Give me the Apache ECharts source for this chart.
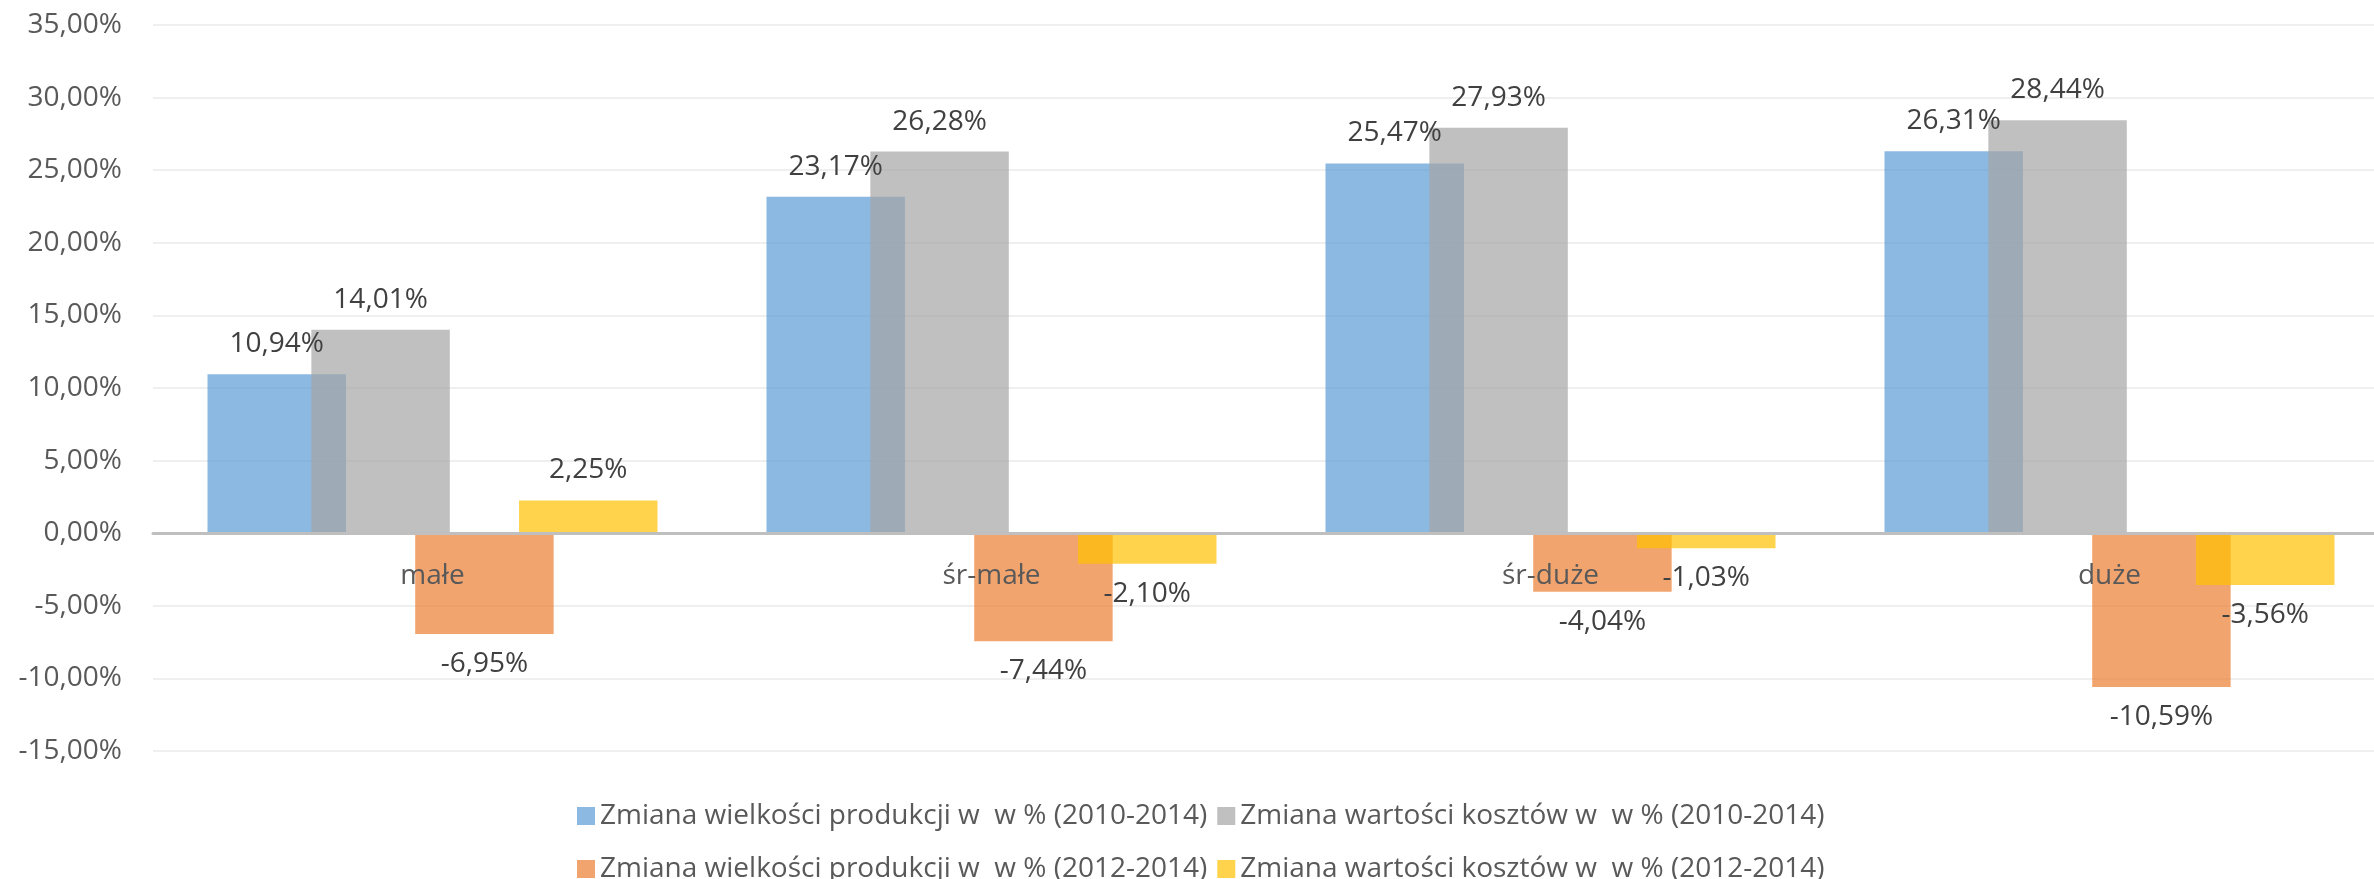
<!DOCTYPE html>
<html>
<head>
<meta charset="utf-8">
<script src="https://cdn.jsdelivr.net/npm/echarts@6/dist/echarts.min.js"></script>
<style>
  html, body { margin: 0; padding: 0; background: #fff; }
  #chart { width: 2374px; height: 879px; }
</style>
</head>
<body>
<div id="chart"></div>
<script>
const kategorie = ["małe", "śr-małe", "śr-duże", "duże"];
const produkcja1014 = [10.94, 23.17, 25.47, 26.31];
const koszty1014 = [14.01, 26.28, 27.93, 28.44];
const produkcja1214 = [-6.95, -7.44, -4.04, -10.59];
const koszty1214 = [2.25, -2.10, -1.03, -3.56];
const nazwy = [
  "Zmiana wielkości produkcji w  w % (2010-2014)",
  "Zmiana wartości kosztów w  w % (2010-2014)",
  "Zmiana wielkości produkcji w  w % (2012-2014)",
  "Zmiana wartości kosztów w  w % (2012-2014)"
];
const kolory = [
  "rgba(91,155,213,0.7)",
  "rgba(165,165,165,0.7)",
  "rgba(237,125,49,0.7)",
  "rgba(255,192,0,0.7)"
];

const fmt = (v) => v.toFixed(2).replace(".", ",") + "%";
const czcionka = "'Open Sans', sans-serif";

function seria(nazwa, wartosci, kolor) {
  return {
    name: nazwa,
    type: "bar",
    barGap: "-25%",
    barCategoryGap: "19.5%",
    itemStyle: { color: kolor },
    data: wartosci.map((v) => ({
      value: v,
      label: { position: v < 0 ? "bottom" : "top" }
    })),
    label: {
      show: true,
      distance: 16,
      color: "#404040",
      fontSize: 28,
      fontFamily: czcionka,
      formatter: (p) => fmt(p.value)
    }
  };
}

const wykres = echarts.init(document.getElementById("chart"));
wykres.setOption({
  animation: false,
  backgroundColor: "#fff",
  grid: { left: 153, width: 2236, top: 25, height: 726, outerBoundsMode: "none", containLabel: false },
  legend: [
    {
      data: [nazwy[0], nazwy[1]],
      left: 572, top: 797,
      itemWidth: 18, itemHeight: 18, itemGap: 10,
      icon: "rect",
      textStyle: { color: "#595959", fontSize: 28, fontFamily: czcionka }
    },
    {
      data: [nazwy[2], nazwy[3]],
      left: 572, top: 850,
      itemWidth: 18, itemHeight: 18, itemGap: 10,
      icon: "rect",
      textStyle: { color: "#595959", fontSize: 28, fontFamily: czcionka }
    }
  ],
  xAxis: {
    type: "category",
    data: kategorie,
    offset: -218,
    z: 10,
    axisTick: { show: false },
    axisLine: { onZero: false, lineStyle: { color: "#BFBFBF", width: 3 } },
    axisLabel: { color: "#595959", fontSize: 28, fontFamily: czcionka, margin: 29 }
  },
  yAxis: {
    type: "value",
    min: -15,
    max: 35,
    interval: 5,
    axisLine: { show: false },
    axisTick: { show: false },
    splitLine: { lineStyle: { color: "#EFEFEF", width: 2 } },
    axisLabel: {
      color: "#595959", fontSize: 28, fontFamily: czcionka, margin: 31,
      formatter: fmt
    }
  },
  series: [
    seria(nazwy[0], produkcja1014, kolory[0]),
    seria(nazwy[1], koszty1014, kolory[1]),
    seria(nazwy[2], produkcja1214, kolory[2]),
    seria(nazwy[3], koszty1214, kolory[3])
  ]
});
</script>
</body>
</html>
